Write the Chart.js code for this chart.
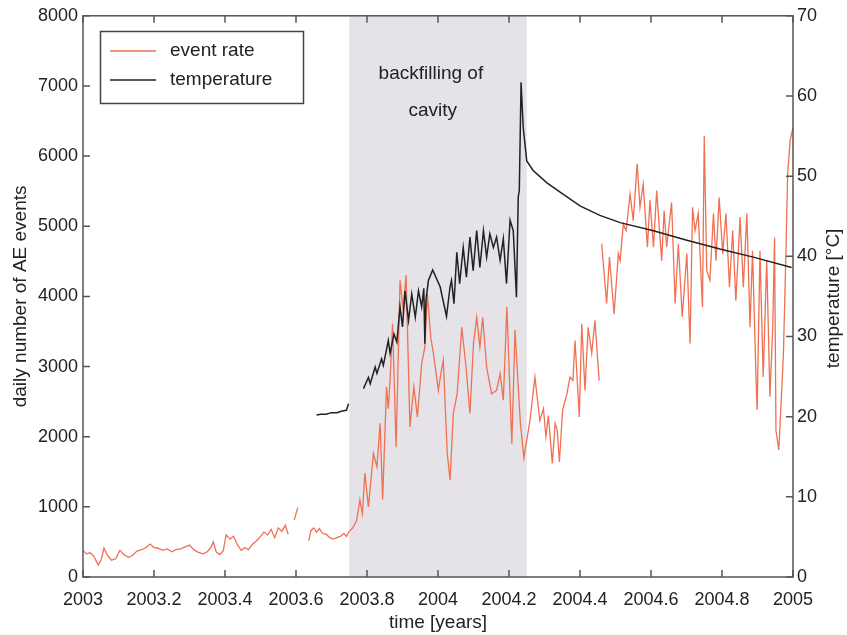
<!DOCTYPE html>
<html lang="en">
<head>
  <meta charset="UTF-8" />
  <title>AE event rate and temperature</title>
  <script src="https://cdn.jsdelivr.net/npm/chart.js"></script>
  <style>
    body { margin: 0; background: #fff; }
    canvas { display: block; }
  </style>
</head>
<body>
  <canvas id="aeChart" width="847" height="635"></canvas>

  <script>
    // daily AE event rate (null = no data)
    const rateYears = [
      2003.000, 2003.010, 2003.020, 2003.030, 2003.043, 2003.052, 2003.059, 2003.068, 2003.080, 2003.092,
      2003.104, 2003.115, 2003.128, 2003.140, 2003.152, 2003.165, 2003.178, 2003.189, 2003.200, 2003.212,
      2003.225, 2003.238, 2003.250, 2003.262, 2003.275, 2003.288, 2003.300, 2003.312, 2003.325, 2003.338,
      2003.350, 2003.360, 2003.367, 2003.375, 2003.385, 2003.395, 2003.403, 2003.414, 2003.424, 2003.436,
      2003.446, 2003.456, 2003.466, 2003.478, 2003.490, 2003.500, 2003.510, 2003.520, 2003.530, 2003.540,
      2003.550, 2003.560, 2003.570, 2003.578, 2003.588, 2003.595, 2003.605, 2003.620, 2003.636, 2003.642,
      2003.650, 2003.658, 2003.666, 2003.675, 2003.685, 2003.695, 2003.705, 2003.715, 2003.725, 2003.735,
      2003.742, 2003.750, 2003.760, 2003.771, 2003.780, 2003.787, 2003.794, 2003.804, 2003.818, 2003.828,
      2003.837, 2003.844, 2003.855, 2003.860, 2003.865, 2003.872, 2003.882, 2003.893, 2003.902, 2003.910,
      2003.921, 2003.932, 2003.942, 2003.954, 2003.963, 2003.970, 2003.980, 2003.987, 2004.001, 2004.008,
      2004.015, 2004.026, 2004.034, 2004.043, 2004.054, 2004.067, 2004.079, 2004.090, 2004.100, 2004.109,
      2004.118, 2004.126, 2004.137, 2004.151, 2004.165, 2004.175, 2004.184, 2004.194, 2004.208, 2004.217,
      2004.226, 2004.232, 2004.242, 2004.259, 2004.273, 2004.287, 2004.297, 2004.304, 2004.311, 2004.322,
      2004.330, 2004.336, 2004.342, 2004.351, 2004.363, 2004.372, 2004.380, 2004.386, 2004.398, 2004.405,
      2004.414, 2004.423, 2004.433, 2004.442, 2004.454, 2004.458, 2004.461, 2004.475, 2004.483, 2004.496,
      2004.508, 2004.513, 2004.522, 2004.530, 2004.541, 2004.550, 2004.561, 2004.569, 2004.578, 2004.590,
      2004.597, 2004.607, 2004.616, 2004.630, 2004.637, 2004.644, 2004.658, 2004.668, 2004.677, 2004.688,
      2004.701, 2004.710, 2004.717, 2004.724, 2004.733, 2004.745, 2004.750, 2004.757, 2004.766, 2004.776,
      2004.783, 2004.792, 2004.802, 2004.811, 2004.821, 2004.830, 2004.839, 2004.851, 2004.860, 2004.870,
      2004.879, 2004.886, 2004.896, 2004.899, 2004.907, 2004.916, 2004.926, 2004.935, 2004.943, 2004.948,
      2004.952, 2004.960, 2004.965, 2004.973, 2004.980, 2004.985, 2004.992, 2005.000
    ];
    const rateValues = [
      380, 330, 345, 300, 170, 260, 410, 320, 240, 260,
      380, 320, 280, 310, 370, 390, 420, 470, 420, 410,
      380, 400, 360, 390, 400, 430, 455, 390, 350, 330,
      360, 420, 500, 360, 320, 370, 600, 540, 580, 450,
      380, 420, 390, 470, 520, 580, 640, 600, 680, 560,
      700, 650, 740, 610, null, 810, 990, null, 520, 660,
      700, 640, 690, 620, 610, 560, 540, 560, 580, 620,
      580, 650, 700, 810, 1100, 900, 1480, 1000, 1760, 1570,
      2190, 1100, 2710, 2400, 2800, 3610, 1850, 4230, 3800, 4300,
      2140, 2710, 2280, 3040, 3280, 4040, 3400, 3190, 2660, 2900,
      3090, 1760, 1380, 2330, 2610, 3560, 2990, 2330, 3330, 3700,
      3280, 3700, 2990, 2610, 2660, 2900, 2520, 3850, 1900, 3520,
      2710, 2200, 1700, 2230, 2850, 2230, 2400, 2000, 2300, 1620,
      2190, 2090, 1640, 2380, 2610, 2850, 2800, 3370, 2280, 3610,
      2660, 3560, 3190, 3660, 2800, null, 4750, 3900, 4560, 3750,
      4610, 4510, 5030, 4940, 5460, 5080, 5890, 5270, 5600, 4700,
      5370, 4700, 5510, 4510, 5220, 4700, 5340, 3900, 4750, 3710,
      4610, 3330, 5270, 4940, 5180, 3850, 6290, 4370, 4230, 5180,
      4510, 5410, 4610, 5180, 4130, 4940, 3940, 5130, 4130, 5180,
      3560, 4650, 2800, 2380, 4650, 2850, 4510, 2570, 3560, 4840,
      2090, 1810, 2330, 3180, 4610, 5750, 6220, 6410
    ];

    // temperature in deg C (null = no data)
    const tempYears = [
      2003.658, 2003.670, 2003.685, 2003.700, 2003.715, 2003.730, 2003.742, 2003.748, 2003.770, 2003.790,
      2003.804, 2003.809, 2003.823, 2003.828, 2003.841, 2003.846, 2003.860, 2003.865, 2003.876, 2003.884,
      2003.893, 2003.900, 2003.907, 2003.917, 2003.926, 2003.936, 2003.945, 2003.954, 2003.960, 2003.963,
      2003.966, 2003.973, 2003.985, 2004.006, 2004.024, 2004.034, 2004.038, 2004.045, 2004.053, 2004.061,
      2004.071, 2004.080, 2004.090, 2004.099, 2004.109, 2004.118, 2004.128, 2004.137, 2004.146, 2004.156,
      2004.165, 2004.175, 2004.184, 2004.193, 2004.203, 2004.212, 2004.221, 2004.226, 2004.229, 2004.234,
      2004.240, 2004.250, 2004.268, 2004.306, 2004.344, 2004.400, 2004.456, 2004.513, 2004.607, 2004.701,
      2004.794, 2004.888, 2004.996
    ];
    const tempValues = [
      20.2, 20.3, 20.3, 20.5, 20.5, 20.7, 20.8, 21.6, null, 23.5,
      24.9, 24.1, 26.2, 25.4, 27.2, 26.4, 29.5, 27.9, 30.3, 29.3,
      33.7, 31.2, 35.7, 32.0, 35.3, 32.4, 35.7, 33.7, 36.0, 29.1,
      34.5, 37.0, 38.3, 36.2, 32.5, 36.2, 37.0, 34.1, 40.5, 36.6,
      41.1, 37.4, 42.4, 38.2, 43.2, 38.6, 43.2, 39.9, 42.8, 41.1,
      42.4, 39.5, 42.2, 36.6, 44.5, 43.2, 34.9, 47.4, 48.2, 61.7,
      56.1, 51.9, 50.7, 49.2, 48.0, 46.3, 45.1, 44.2, 43.2, 42.0,
      40.9, 39.9, 38.6
    ];

    const yearTicks = [2003, 2003.2, 2003.4, 2003.6, 2003.8, 2004, 2004.2, 2004.4, 2004.6, 2004.8, 2005];
    const rateTicks = [0, 1000, 2000, 3000, 4000, 5000, 6000, 7000, 8000];
    const tempTicks = [0, 10, 20, 30, 40, 50, 60, 70];

    const shadeStart = 2003.75;
    const shadeEnd = 2004.25;
    const noteLines = ['backfilling of', 'cavity'];
    const tempTitle = 'temperature [°C]';

    const FONT = '"Liberation Sans", Arial, Helvetica, sans-serif';
    const RATE_COLOR = 'rgb(240, 112, 82)';
    const TEMP_COLOR = '#222';
    const AXIS_COLOR = '#555';

    const pts = (xs, ys) => xs.map((x, i) => ({ x: x, y: ys[i] }));
    const setTicks = list => scale => { scale.ticks = list.map(v => ({ value: v })); };

    const decorations = {
      id: 'decorations',
      beforeDatasetsDraw(chart) {
        const { ctx, chartArea: a, scales: { x, y } } = chart;
        const x0 = x.getPixelForValue(shadeStart);
        const x1 = x.getPixelForValue(shadeEnd);
        ctx.save();
        ctx.fillStyle = '#e5e2e8';
        ctx.fillRect(x0, a.top, x1 - x0, a.bottom - a.top);

        ctx.fillStyle = '#222';
        ctx.font = '19px ' + FONT;
        ctx.textAlign = 'center';
        ctx.textBaseline = 'middle';
        ctx.fillText(noteLines[0], x.getPixelForValue(2003.98), y.getPixelForValue(7170));
        ctx.fillText(noteLines[1], x.getPixelForValue(2003.985), y.getPixelForValue(6650));
        ctx.restore();
      },
      afterDraw(chart) {
        const { ctx, chartArea: a, scales: { x, y, y2 } } = chart;
        const len = 7;
        ctx.save();
        ctx.strokeStyle = AXIS_COLOR;
        ctx.lineWidth = 1.5;
        ctx.strokeRect(a.left, a.top, a.right - a.left, a.bottom - a.top);

        ctx.beginPath();
        yearTicks.forEach(v => {
          const px = x.getPixelForValue(v);
          ctx.moveTo(px, a.bottom); ctx.lineTo(px, a.bottom - len);
          ctx.moveTo(px, a.top); ctx.lineTo(px, a.top + len);
        });
        rateTicks.forEach(v => {
          const py = y.getPixelForValue(v);
          ctx.moveTo(a.left, py); ctx.lineTo(a.left + len, py);
        });
        tempTicks.forEach(v => {
          const py = y2.getPixelForValue(v);
          ctx.moveTo(a.right, py); ctx.lineTo(a.right - len, py);
        });
        ctx.stroke();

        // right axis title, reading bottom to top like the left one
        ctx.fillStyle = '#222';
        ctx.font = '19px ' + FONT;
        ctx.textAlign = 'center';
        ctx.textBaseline = 'middle';
        ctx.save();
        ctx.translate(834, (a.top + a.bottom) / 2 + 2);
        ctx.rotate(-Math.PI / 2);
        ctx.fillText(tempTitle, 0, 0);
        ctx.restore();

        // legend box
        ctx.fillStyle = '#fff';
        ctx.fillRect(100, 31, 203, 72);
        ctx.lineWidth = 1.5;
        ctx.strokeStyle = '#444';
        ctx.strokeRect(100.5, 31.5, 203, 72);

        const items = [
          { label: chart.data.datasets[0].label, color: RATE_COLOR, y: 51, w: 1.3 },
          { label: chart.data.datasets[1].label, color: TEMP_COLOR, y: 80, w: 1.5 }
        ];
        ctx.textAlign = 'left';
        items.forEach(it => {
          ctx.strokeStyle = it.color;
          ctx.lineWidth = it.w;
          ctx.beginPath();
          ctx.moveTo(110, it.y); ctx.lineTo(156, it.y);
          ctx.stroke();
          ctx.fillStyle = '#222';
          ctx.fillText(it.label, 170, it.y);
        });
        ctx.restore();
      }
    };

    new Chart(document.getElementById('aeChart'), {
      type: 'line',
      data: {
        datasets: [
          {
            label: 'event rate',
            data: pts(rateYears, rateValues),
            yAxisID: 'y',
            borderColor: RATE_COLOR,
            borderWidth: 1.3,
            pointRadius: 0,
            tension: 0,
            order: 2
          },
          {
            label: 'temperature',
            data: pts(tempYears, tempValues),
            yAxisID: 'y2',
            borderColor: TEMP_COLOR,
            borderWidth: 1.5,
            pointRadius: 0,
            tension: 0,
            order: 1
          }
        ]
      },
      options: {
        responsive: false,
        animation: false,
        layout: { padding: { top: 15, left: 0, right: 0, bottom: 0 } },
        plugins: {
          legend: { display: false },
          tooltip: { enabled: false }
        },
        scales: {
          x: {
            type: 'linear',
            min: 2003,
            max: 2005,
            afterBuildTicks: setTicks(yearTicks),
            afterFit: s => { s.height = 58; },
            grid: { display: false, drawTicks: false },
            border: { display: false },
            ticks: {
              padding: 12,
              color: '#222',
              font: { family: FONT, size: 18 },
              maxRotation: 0,
              autoSkip: false,
              callback: v => String(Number(v.toFixed(1)))
            },
            title: {
              display: true,
              text: 'time [years]',
              color: '#222',
              font: { family: FONT, size: 19 },
              padding: { top: 0, bottom: 1 }
            }
          },
          y: {
            position: 'left',
            min: 0,
            max: 8000,
            afterBuildTicks: setTicks(rateTicks),
            afterFit: s => { s.width = 83; },
            grid: { display: false, drawTicks: false },
            border: { display: false },
            ticks: {
              padding: 5,
              color: '#222',
              font: { family: FONT, size: 18 },
              autoSkip: false,
              callback: v => String(v)
            },
            title: {
              display: true,
              text: 'daily number of AE events',
              color: '#222',
              font: { family: FONT, size: 19 },
              padding: { top: 9, bottom: 0 }
            }
          },
          y2: {
            position: 'right',
            min: 0,
            max: 70,
            afterBuildTicks: setTicks(tempTicks),
            afterFit: s => { s.width = 54; },
            grid: { display: false, drawTicks: false },
            border: { display: false },
            ticks: {
              padding: 4,
              color: '#222',
              font: { family: FONT, size: 18 },
              autoSkip: false,
              callback: v => String(v)
            },
            title: { display: false }
          }
        }
      },
      plugins: [decorations]
    });
  </script>
</body>
</html>
